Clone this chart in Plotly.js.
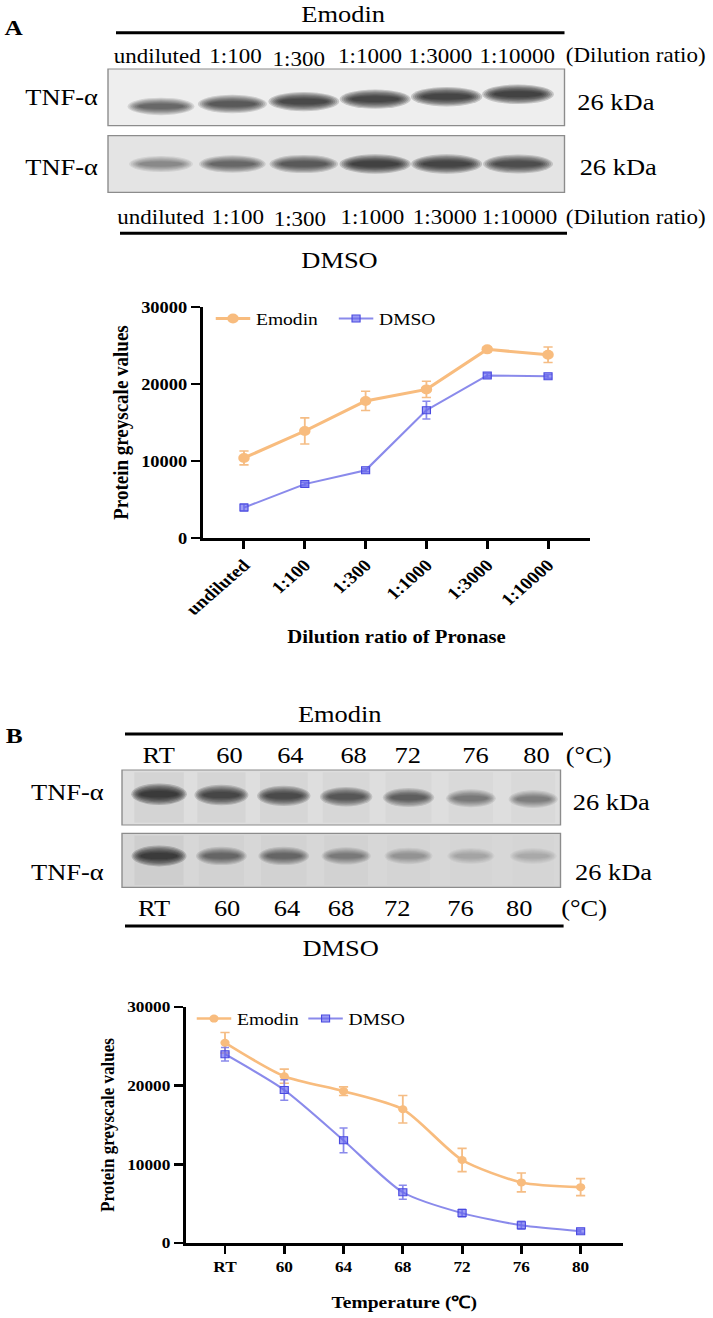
<!DOCTYPE html>
<html><head><meta charset="utf-8">
<script src="https://cdn.plot.ly/plotly-3.0.1.min.js"></script>
<style>
html,body{margin:0;padding:0;background:#fff;overflow:hidden;}
#chart{width:620px;height:1318px;transform:scaleX(1.15);transform-origin:0 0;}
</style></head><body><div id="chart"></div>
<script>
// ---------- data ----------
const dilutionLabels = ['undiluted','1:100','1:300','1:1000','1:3000','1:10000'];
const dilutionEmodin = [10400, 13900, 17800, 19300, 24500, 23800];
const dilutionEmodinErr = [900, 1700, 1250, 1050, 300, 1000];
const dilutionDmso = [3950, 7000, 8800, 16600, 21100, 21000];
const dilutionDmsoErr = [450, 250, 200, 1150, 300, 250];

const tempLabels = ['RT','60','64','68','72','76','80'];
const tempEmodin = [25450, 21200, 19300, 17000, 10550, 7700, 7100];
const tempEmodinErr = [1300, 900, 550, 1750, 1480, 1200, 1080];
const tempDmso = [24000, 19450, 13050, 6450, 3800, 2250, 1500];
const tempDmsoErr = [850, 1300, 1570, 900, 500, 500, 250];

const yTicks = [0, 10000, 20000, 30000];

// western blot band darkness (0 = none, 1 = darkest), per lane
const blotA_emodin = [0.60, 0.75, 0.88, 0.90, 0.92, 0.95];
const blotA_dmso   = [0.38, 0.58, 0.72, 0.92, 0.90, 0.82];
const blotB_emodin = [1.00, 0.85, 0.80, 0.70, 0.60, 0.45, 0.40];
const blotB_dmso   = [0.95, 0.55, 0.55, 0.40, 0.28, 0.20, 0.18];

const laneLabelsA = dilutionLabels.concat(['(Dilution ratio)']);
const laneLabelsB = tempLabels.concat(['(°C)']);

// ---------- layout helpers ----------
const W = 713, H = 1318;
const px = v => v / W;
const py = v => 1 - v / H;
const SERIF = 'Liberation Serif, Times New Roman, serif';
const ORANGE = '#F8BC7E';
const BLUE_LINE = 'rgba(118,118,232,0.85)';
const BLUE_MK = 'rgba(105,105,238,0.65)';

function ann(text, x, y, size, bold) {
  return {text: text, x: px(x), y: py(y), xref: 'paper', yref: 'paper',
    showarrow: false, xanchor: 'center', yanchor: 'middle',
    font: {family: SERIF, size: size, color: '#000', weight: bold ? 'bold' : 'normal'}};
}
function hline(x0, x1, y) {
  return {type: 'line', xref: 'paper', yref: 'paper', x0: px(x0), x1: px(x1),
    y0: py(y), y1: py(y), line: {color: '#000', width: 3}};
}
function box(xref, yref, fill) {
  return {type: 'rect', xref: xref + ' domain', yref: yref + ' domain', x0: 0, x1: 1, y0: 0, y1: 1,
    fillcolor: fill, line: {color: '#8c8c8c', width: 1.2}};
}
// soft band: several stacked translucent ellipses
function bands(vals, xref, yref, yc0, tilt, hw, hh, smear) {
  const out = [];
  vals.forEach((v, i) => {
    const w = hw * (0.85 + 0.2 * v), h = hh * (0.8 + 0.35 * v);
    const yc = yc0 + tilt * i;
    if (smear) {
      out.push({type: 'rect', xref: xref, yref: yref, x0: i - w * 1.05, x1: i + w * 1.05, y0: 0.04, y1: 0.96,
        fillcolor: 'rgba(60,60,60,' + (0.06 * v).toFixed(3) + ')', line: {width: 0}});
    }
    for (let k = 0; k < 7; k++) {
      const sx = 1.18 - 0.065 * k, sy = 1.7 - 0.2 * k;
      out.push({type: 'circle', xref: xref, yref: yref,
        x0: i - w * sx, x1: i + w * sx, y0: yc - h * sy, y1: yc + h * sy,
        fillcolor: 'rgba(18,18,18,' + (0.2 * v).toFixed(3) + ')', line: {width: 0}});
    }
  });
  return out;
}

// ---------- traces ----------
const traces = [
  {x: dilutionLabels, y: dilutionEmodin, name: 'Emodin', xaxis: 'x', yaxis: 'y', legend: 'legend',
   mode: 'lines+markers', line: {color: ORANGE, width: 3},
   marker: {symbol: 'circle', size: 10, color: ORANGE},
   error_y: {type: 'data', array: dilutionEmodinErr, color: '#F5BD85', thickness: 1.6, width: 4},
   cliponaxis: false},
  {x: dilutionLabels, y: dilutionDmso, name: 'DMSO', xaxis: 'x', yaxis: 'y', legend: 'legend',
   mode: 'lines+markers', line: {color: BLUE_LINE, width: 2},
   marker: {symbol: 'square', size: 7, color: BLUE_MK, line: {color: '#4a4ae0', width: 1}},
   error_y: {type: 'data', array: dilutionDmsoErr, color: BLUE_LINE, thickness: 1.5, width: 3.5},
   cliponaxis: false},
  {x: tempLabels, y: tempEmodin, name: 'Emodin', xaxis: 'x2', yaxis: 'y2', legend: 'legend2',
   mode: 'lines+markers', line: {color: ORANGE, width: 2.6, shape: 'spline', smoothing: 0.7},
   marker: {symbol: 'circle', size: 8, color: ORANGE},
   error_y: {type: 'data', array: tempEmodinErr, color: '#F5BD85', thickness: 1.6, width: 4},
   cliponaxis: false},
  {x: tempLabels, y: tempDmso, name: 'DMSO', xaxis: 'x2', yaxis: 'y2', legend: 'legend2',
   mode: 'lines+markers', line: {color: BLUE_LINE, width: 2, shape: 'spline', smoothing: 0.7},
   marker: {symbol: 'square', size: 7, color: BLUE_MK, line: {color: '#4a4ae0', width: 1}},
   error_y: {type: 'data', array: tempDmsoErr, color: BLUE_LINE, thickness: 1.5, width: 3.5},
   cliponaxis: false}
];
// invisible anchors so the blot axes exist
[['x3','y3'],['x3','y4'],['x4','y5'],['x4','y6']].forEach(p => traces.push({
  x: [0], y: [0.5], xaxis: p[0], yaxis: p[1], mode: 'markers', marker: {opacity: 0},
  showlegend: false, hoverinfo: 'skip'}));

// ---------- axes ----------
function xAxis(domain, anchor, range, angle, tsize, title, tfs, standoff) {
  return {domain: domain, anchor: anchor, type: 'category', range: range,
    showline: true, linecolor: '#000', linewidth: 2.6, ticks: 'outside', ticklen: 8,
    tickwidth: 2.6, tickcolor: '#000', tickangle: angle, showgrid: false, zeroline: false,
    tickfont: {family: SERIF, size: tsize, color: '#000', weight: 'bold'},
    title: {text: title, standoff: standoff, font: {family: SERIF, size: tfs, color: '#000', weight: 'bold'}}};
}
function yAxis(domain, anchor, tsize, tfs, standoff) {
  return {domain: domain, anchor: anchor, range: [0, 30000], tickvals: yTicks, tickformat: 'd',
    showline: true, linecolor: '#000', linewidth: 2.6, ticks: 'outside', ticklen: 8,
    tickwidth: 2.6, tickcolor: '#000', showgrid: false, zeroline: false,
    tickfont: {family: SERIF, size: tsize, color: '#000', weight: 'bold'},
    title: {text: 'Protein greyscale values', standoff: standoff,
      font: {family: SERIF, size: tfs, color: '#000', weight: 'bold'}}};
}
const hidden = (domain, anchor, range) => ({domain: domain, anchor: anchor, range: range,
  visible: false, showgrid: false, zeroline: false, fixedrange: true});

const layout = {
  width: 620, height: 1318, margin: {l: 0, r: 0, t: 0, b: 0},
  paper_bgcolor: '#fff', plot_bgcolor: 'rgba(0,0,0,0)', showlegend: true,
  font: {family: SERIF, color: '#000'},
  xaxis: xAxis([px(203), px(590)], 'y', [-0.674, 5.69], -45, 17,
               'Dilution ratio of Pronase', 18, 13),
  yaxis: yAxis([py(538), py(307)], 'x', 16, 19, 6),
  xaxis2: xAxis([px(186), px(622.7)], 'y2', [-0.658, 6.71], 0, 15,
                'Temperature (℃)', 17, 23),
  yaxis2: yAxis([py(1243), py(1007)], 'x2', 15, 17, 7),
  xaxis3: hidden([px(108), px(564.5)], 'y3', [-0.742, 5.651]),
  yaxis3: hidden([py(125.7), py(69)], 'x3', [0, 1]),
  yaxis4: hidden([py(192.3), py(135.7)], 'x3', [0, 1]),
  xaxis4: hidden([px(122), px(560.5)], 'y5', [-0.594, 6.437]),
  yaxis5: hidden([py(825), py(770)], 'x4', [0, 1]),
  yaxis6: hidden([py(887.3), py(833.3)], 'x4', [0, 1]),
  legend: {orientation: 'h', x: px(210), y: py(301), xanchor: 'left', yanchor: 'top',
    bgcolor: 'rgba(0,0,0,0)', font: {family: SERIF, size: 17, color: '#000'},
    entrywidth: 62, traceorder: 'normal'},
  legend2: {orientation: 'h', x: px(191), y: py(1001), xanchor: 'left', yanchor: 'top',
    bgcolor: 'rgba(0,0,0,0)', font: {family: SERIF, size: 17, color: '#000'},
    entrywidth: 52, traceorder: 'normal'},
  shapes: [].concat(
    [box('x3', 'y3', '#eeeeee'), box('x3', 'y4', '#e4e4e4')],
    bands(blotA_emodin, 'x3', 'y3', 0.34, 0.043, 0.41, 0.09, false),
    bands(blotA_dmso, 'x3', 'y4', 0.50, 0.0, 0.41, 0.09, false),
    [box('x4', 'y5', '#dedede'), box('x4', 'y6', '#d7d7d7')],
    bands(blotB_emodin, 'x4', 'y5', 0.56, -0.015, 0.36, 0.1, true),
    bands(blotB_dmso, 'x4', 'y6', 0.58, 0.0, 0.36, 0.1, true),
    [hline(116, 564.5, 32.7), hline(120, 567, 233.3), hline(125, 563, 734), hline(125, 563.6, 926)]
  ),
  annotations: []
};

// ---------- text of the blot panels ----------
const A = layout.annotations;
A.push(ann('A', 14, 28, 22, true), ann('B', 14, 735, 22, true));
A.push(ann('Emodin', 343, 15, 23), ann('DMSO', 339, 260, 23));
A.push(ann('Emodin', 340, 715, 23), ann('DMSO', 340, 948, 23));
const topAx = [157, 236, 298.6, 370, 441, 518, 636];
const botAx = [161, 238.6, 300, 373, 445.5, 520, 636];
laneLabelsA.forEach((t, i) => {
  A.push(ann(t, topAx[i], i === 2 ? 58.5 : 55.5, 20));
  A.push(ann(t, botAx[i], i === 2 ? 219.5 : 217, 20));
});
const topBx = [159, 229.5, 291, 353.6, 408, 475, 536, 588.6];
const botBx = [154.5, 227, 287, 341, 397.7, 460, 519.5, 584];
laneLabelsB.forEach((t, i) => {
  A.push(ann(t, topBx[i], 755, 23));
  A.push(ann(t, botBx[i], 908, 23));
});
A.push(ann('TNF-α', 61, 97, 23), ann('TNF-α', 61, 168, 23));
A.push(ann('26 kDa', 616, 102, 23), ann('26 kDa', 618, 168, 23));
A.push(ann('TNF-α', 67, 792, 23), ann('TNF-α', 67, 872, 23));
A.push(ann('26 kDa', 611, 802, 23), ann('26 kDa', 614, 872, 23));

Plotly.newPlot('chart', traces, layout, {staticPlot: true, displayModeBar: false});
</script></body></html>
